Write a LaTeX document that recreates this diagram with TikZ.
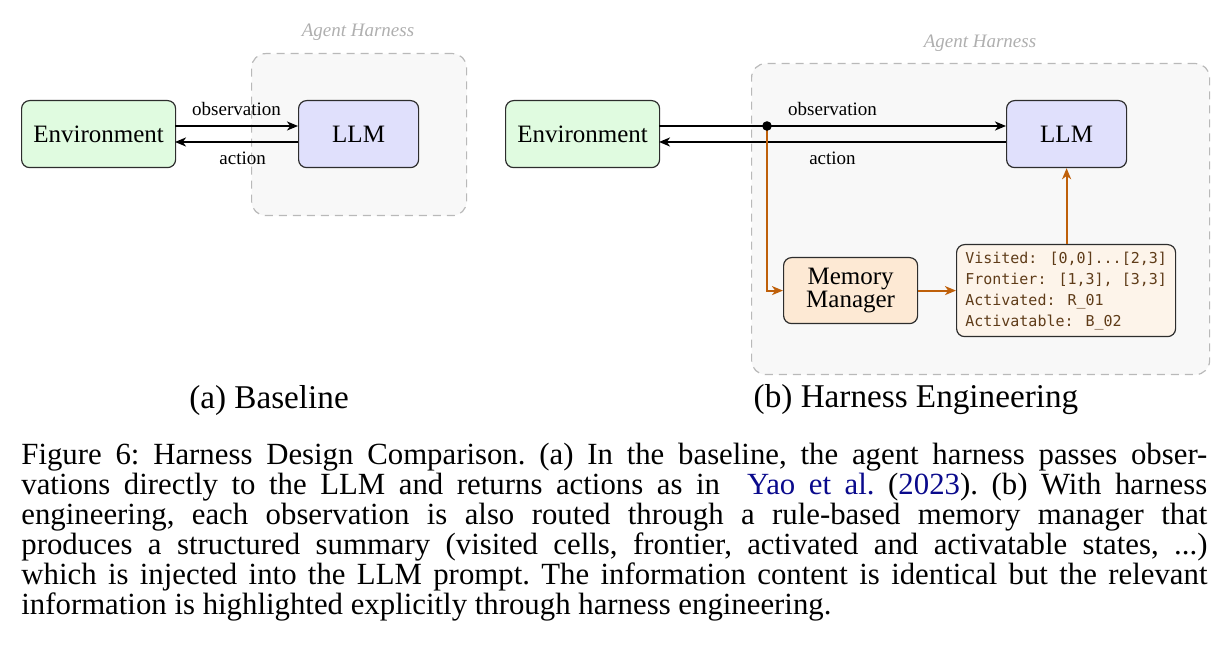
\documentclass[tikz,border=0pt]{standalone}
\usepackage{fontspec}
\setmainfont{Liberation Serif}
\newfontfamily\monof{DejaVu Sans Mono}
\usetikzlibrary{arrows.meta}
\definecolor{envgreen}{RGB}{224,251,224}
\definecolor{llmblue}{RGB}{224,224,252}
\definecolor{memfill}{RGB}{253,233,212}
\definecolor{sumfill}{RGB}{253,244,234}
\definecolor{harnfill}{RGB}{248,248,248}
\definecolor{harnline}{RGB}{185,185,185}
\definecolor{harntext}{RGB}{175,175,175}
\definecolor{orangeline}{RGB}{191,96,10}
\definecolor{sumtext}{RGB}{95,60,25}
\definecolor{boxline}{RGB}{45,45,45}
\definecolor{citeblue}{RGB}{10,10,140}
\tikzset{
  box/.style={draw=boxline, line width=0.6pt, rounded corners=4pt, inner sep=0pt},
  harness/.style={draw=harnline, fill=harnfill, dashed, dash pattern=on 4pt off 3pt, line width=0.6pt, rounded corners=7pt},
  harnlabel/.style={text=harntext, font=\fontsize{9.5}{10}\selectfont\itshape},
  boxtext/.style={font=\fontsize{12.5}{12}\selectfont},
  lbl/.style={font=\fontsize{9.5}{10}\selectfont, inner sep=0pt},
  flow/.style={line width=1pt, -{Stealth[length=5.5pt,width=4.5pt,inset=1.6pt]}},
  oflow/.style={line width=1pt, draw=orangeline, -{Stealth[length=5.5pt,width=4.5pt,inset=1.6pt]}},
  subcap/.style={font=\fontsize{16.6}{17}\selectfont},
}
\begin{document}
\begin{tikzpicture}[x=0.5pt,y=-0.5pt]
\useasboundingbox (0,0) rectangle (1228,668);
% ---------- panel (a)
\node[harness, minimum width=107.5pt, minimum height=81pt, anchor=north west] (ha) at (251,53) {};
\node[harnlabel] (hal) at (358,32) {Agent Harness};
\node[box, fill=envgreen, minimum width=77pt, minimum height=33.5pt, anchor=north west, boxtext] (enva) at (21,100) {Environment};
\node[box, fill=llmblue, minimum width=60pt, minimum height=33.5pt, anchor=north west, boxtext] (llma) at (298,100) {LLM};
\coordinate (ea1) at (175,126);
\coordinate (ea2) at (175,142);
\draw[flow] (ea1) -- (ea1 -| llma.west) node[lbl, midway, above=4.5pt] {observation};
\draw[flow] (ea2 -| llma.west) -- (ea2) node[lbl, pos=0.45, below=4.5pt] {action};
\node[subcap] (capa) at (269,401) {(a) Baseline};
% ---------- panel (b)
\node[harness, minimum width=229pt, minimum height=155.5pt, anchor=north west] (hb) at (751,63) {};
\node[harnlabel] (hbl) at (980,43) {Agent Harness};
\node[box, fill=envgreen, minimum width=77pt, minimum height=33.5pt, anchor=north west, boxtext] (envb) at (505,100) {Environment};
\node[box, fill=llmblue, minimum width=60pt, minimum height=33.5pt, anchor=north west, boxtext] (llmb) at (1006,100) {LLM};
\coordinate (eb1) at (659,126);
\coordinate (eb2) at (659,142);
\coordinate (jn) at (767,126);
\draw[flow] (eb1) -- (eb1 -| llmb.west) node[lbl, pos=0.5, above=4.5pt] {observation};
\draw[flow] (eb2 -| llmb.west) -- (eb2) node[lbl, pos=0.5, below=4.5pt] {action};
\node[box, fill=memfill, minimum width=67pt, minimum height=33pt, anchor=north west, align=center, font=\fontsize{12.5}{10.8}\selectfont] (mem) at (783,257) {Memory\\Manager};
\node[box, fill=sumfill, minimum width=109.5pt, minimum height=46pt, anchor=north west, align=left, text=sumtext, font=\monof\fontsize{7.5}{10.5}\selectfont] (sum) at (956,244) {Visited: [0,0]...[2,3]\\Frontier: [1,3], [3,3]\\Activated: R\_01\\Activatable: B\_02};
\draw[oflow] (jn) |- (mem.west);
\fill (jn) circle (2.4pt);
\draw[oflow] (mem.east) -- (sum.west);
\draw[oflow] (sum.north -| llmb.south) -- (llmb.south);
\node[subcap] (capb) at (916,400) {(b) Harness Engineering};
% ---------- caption
\node[anchor=base west, text width=593pt, align=justify, inner sep=0pt, font=\fontsize{15.4}{15}\selectfont] (cap) at (21,465) {\frenchspacing Figure 6: Harness Design Comparison. (a) In the baseline, the agent harness passes obser-\linebreak vations directly to the LLM and returns actions as in \ {\color{citeblue}Yao et al.} (\textcolor{citeblue}{2023}). (b) With harness\linebreak engineering, each observation is also routed through a rule-based memory manager that\linebreak produces a structured summary (visited cells, frontier, activated and activatable states, ...)\linebreak which is injected into the LLM prompt. The information content is identical but the relevant\linebreak information is highlighted explicitly through harness engineering.};
\end{tikzpicture}
\end{document}
